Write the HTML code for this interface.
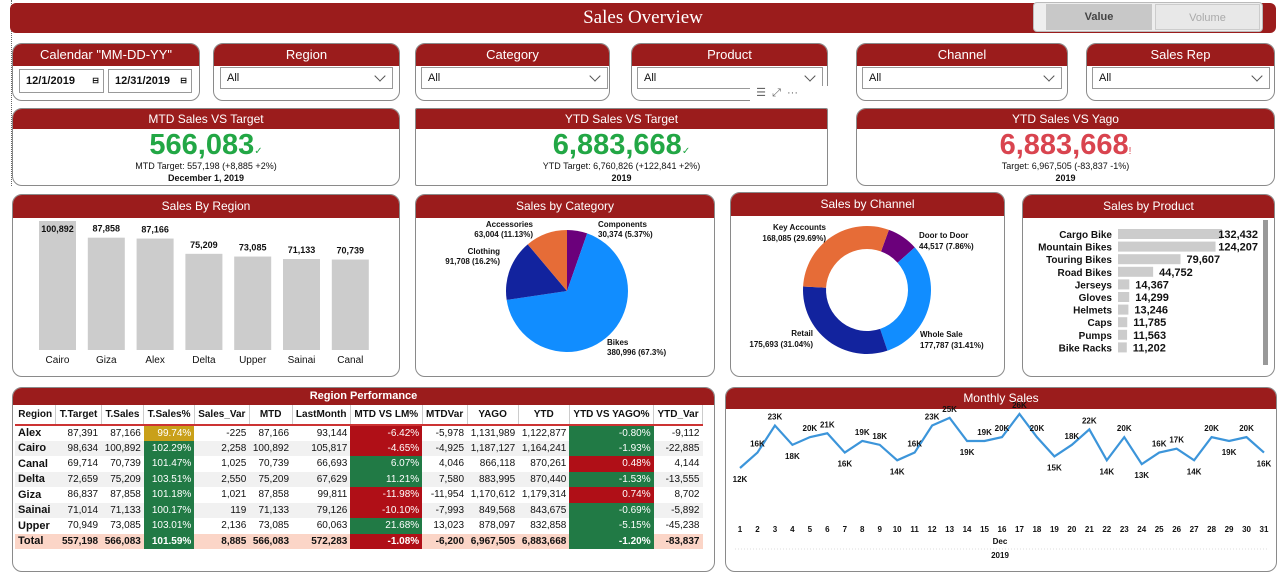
<!DOCTYPE html>
<html><head><meta charset="utf-8">
<style>
*{box-sizing:border-box;margin:0;padding:0}
body{width:1280px;height:574px;background:#fff;font-family:"Liberation Sans",sans-serif;position:relative;overflow:hidden;color:#111}
.abs{position:absolute}
.card{position:absolute;border:1px solid #8a8a8a;border-radius:10px;background:#fff;overflow:hidden}
.hd{position:absolute;left:0;right:0;top:0;background:#9b1c1c;color:#fff;text-align:center;font-size:12px}
.dd{position:absolute;border:1px solid #999;background:#fff;font-size:11px;padding-left:6px;line-height:20px}
.dd .ch{position:absolute;right:8px;top:4px;width:8px;height:8px;border-right:1px solid #555;border-bottom:1px solid #555;transform:rotate(45deg)}
.big{position:absolute;left:0;right:0;text-align:center;font-weight:bold;font-size:29px}
.sub{position:absolute;left:0;right:0;text-align:center;font-size:9px}
table{border-collapse:collapse;font-size:10px}
td,th{padding:0 3px;height:15.5px;white-space:nowrap}
th{font-weight:bold;border-right:1px solid #ccc;height:20px;text-align:center}
td{text-align:right}
td:first-child{text-align:left;font-weight:bold;font-size:11px}
tr.alt td{background:#f1f1f1}
.g{background:#217a45!important;color:#fff}
.r{background:#b00f17!important;color:#fff}
.y{background:#c9a019!important;color:#fff}
tr.tot td{background:#fbd5c7;font-weight:bold}
#charts{z-index:5;pointer-events:none}
</style></head><body>
<div class="abs" style="left:11px;top:0;height:186px;border-left:1px dotted #666"></div>
<div class="abs" style="left:10px;top:3px;width:1266px;height:30px;background:#9b1c1c;border-radius:6px"></div>
<div class="abs" style="left:0;top:7px;width:1286px;text-align:center;color:#fff;font-family:'Liberation Serif',serif;font-size:19px">Sales Overview</div>
<div class="abs" style="left:1033px;top:2px;width:230px;height:30px;background:#eee;border:1px solid #bbb;border-radius:4px"></div>
<div class="abs" style="left:1046px;top:4px;width:106px;height:26px;background:#c8c8c8;font-size:11px;font-weight:bold;color:#444;text-align:center;line-height:26px">Value</div>
<div class="abs" style="left:1155px;top:4px;width:105px;height:26px;background:#e8e8e8;font-size:11px;color:#aaa;text-align:center;line-height:26px;border:1px solid #ccc">Volume</div>

<div class="card" style="left:12px;top:43px;width:188px;height:58px"><div class="hd" style="height:22px;line-height:22px;font-size:13px">Calendar "MM-DD-YY"</div></div>
<div class="dd" style="left:19px;top:69px;width:85px;height:24px;font-size:11px;line-height:22px;font-weight:bold">12/1/2019<span style="position:absolute;right:4px;font-size:8px">⊟</span></div>
<div class="dd" style="left:108px;top:69px;width:84px;height:24px;font-size:11px;line-height:22px;font-weight:bold">12/31/2019<span style="position:absolute;right:4px;font-size:8px">⊟</span></div>
<div class="card" style="left:213px;top:43px;width:187px;height:58px"><div class="hd" style="height:22px;line-height:22px;font-size:13px">Region</div></div>
<div class="dd" style="left:220px;top:67px;width:173px;height:22px">All<span class="ch"></span></div>
<div class="card" style="left:415px;top:43px;width:195px;height:58px"><div class="hd" style="height:22px;line-height:22px;font-size:13px">Category</div></div>
<div class="dd" style="left:421px;top:67px;width:187px;height:22px">All<span class="ch"></span></div>
<div class="card" style="left:631px;top:43px;width:197px;height:58px"><div class="hd" style="height:22px;line-height:22px;font-size:13px">Product</div></div>
<div class="dd" style="left:637px;top:67px;width:186px;height:22px">All<span class="ch"></span></div>
<div class="abs" style="left:750px;top:86px;width:78px;height:16px;background:#fff;font-size:11px;color:#666">&nbsp;&nbsp;☰&nbsp;&nbsp;⤢&nbsp;&nbsp;···</div>
<div class="card" style="left:856px;top:43px;width:212px;height:58px"><div class="hd" style="height:22px;line-height:22px;font-size:13px">Channel</div></div>
<div class="dd" style="left:862px;top:67px;width:200px;height:22px">All<span class="ch"></span></div>
<div class="card" style="left:1086px;top:43px;width:189px;height:58px"><div class="hd" style="height:22px;line-height:22px;font-size:13px">Sales Rep</div></div>
<div class="dd" style="left:1092px;top:67px;width:178px;height:22px">All<span class="ch"></span></div>

<div class="card" style="left:12px;top:108px;width:388px;height:78px"><div class="hd" style="height:20px;line-height:20px">MTD Sales VS Target</div>
<div class="big" style="top:20px;color:#22a745">566,083<span style="font-size:10px;font-weight:normal">✓</span></div>
<div class="sub" style="top:52px">MTD Target: 557,198 (+8,885 +2%)</div><div class="sub" style="top:64px;font-weight:bold">December 1, 2019</div></div>
<div class="card" style="left:415px;top:108px;width:413px;height:78px;border-radius:2px"><div class="hd" style="height:20px;line-height:20px">YTD Sales VS Target</div>
<div class="big" style="top:20px;color:#22a745">6,883,668<span style="font-size:10px;font-weight:normal">✓</span></div>
<div class="sub" style="top:52px">YTD Target: 6,760,826 (+122,841 +2%)</div><div class="sub" style="top:64px;font-weight:bold">2019</div></div>
<div class="card" style="left:856px;top:108px;width:419px;height:78px"><div class="hd" style="height:20px;line-height:20px">YTD Sales VS Yago</div>
<div class="big" style="top:20px;color:#d9444f">6,883,668<span style="font-size:10px;font-weight:normal">!</span></div>
<div class="sub" style="top:52px">Target: 6,967,505 (-83,837 -1%)</div><div class="sub" style="top:64px;font-weight:bold">2019</div></div>

<div class="card" style="left:12px;top:194px;width:388px;height:183px"><div class="hd" style="height:23px;line-height:23px">Sales By Region</div></div>
<div class="card" style="left:415px;top:194px;width:300px;height:183px"><div class="hd" style="height:23px;line-height:23px">Sales by Category</div></div>
<div class="card" style="left:730px;top:192px;width:275px;height:185px"><div class="hd" style="height:23px;line-height:23px">Sales by Channel</div></div>
<div class="card" style="left:1022px;top:194px;width:253px;height:183px"><div class="hd" style="height:23px;line-height:23px">Sales by Product</div></div>

<div class="card" style="left:12px;top:387px;width:703px;height:185px"><div class="hd" style="height:17px;line-height:17px;font-weight:bold;font-size:11px">Region Performance</div>
<table class="abs" style="left:2px;top:17px;width:688px">
<tr style="border-bottom:2px solid #c33"><th>Region</th><th>T.Target</th><th>T.Sales</th><th>T.Sales%</th><th>Sales_Var</th><th>MTD</th><th>LastMonth</th><th>MTD VS LM%</th><th>MTDVar</th><th>YAGO</th><th>YTD</th><th>YTD VS YAGO%</th><th>YTD_Var</th></tr>
<tr><td>Alex</td><td>87,391</td><td>87,166</td><td class="y">99.74%</td><td>-225</td><td>87,166</td><td>93,144</td><td class="r">-6.42%</td><td>-5,978</td><td>1,131,989</td><td>1,122,877</td><td class="g">-0.80%</td><td>-9,112</td></tr>
<tr class="alt"><td>Cairo</td><td>98,634</td><td>100,892</td><td class="g">102.29%</td><td>2,258</td><td>100,892</td><td>105,817</td><td class="r">-4.65%</td><td>-4,925</td><td>1,187,127</td><td>1,164,241</td><td class="g">-1.93%</td><td>-22,885</td></tr>
<tr><td>Canal</td><td>69,714</td><td>70,739</td><td class="g">101.47%</td><td>1,025</td><td>70,739</td><td>66,693</td><td class="g">6.07%</td><td>4,046</td><td>866,118</td><td>870,261</td><td class="r">0.48%</td><td>4,144</td></tr>
<tr class="alt"><td>Delta</td><td>72,659</td><td>75,209</td><td class="g">103.51%</td><td>2,550</td><td>75,209</td><td>67,629</td><td class="g">11.21%</td><td>7,580</td><td>883,995</td><td>870,440</td><td class="g">-1.53%</td><td>-13,555</td></tr>
<tr><td>Giza</td><td>86,837</td><td>87,858</td><td class="g">101.18%</td><td>1,021</td><td>87,858</td><td>99,811</td><td class="r">-11.98%</td><td>-11,954</td><td>1,170,612</td><td>1,179,314</td><td class="r">0.74%</td><td>8,702</td></tr>
<tr class="alt"><td>Sainai</td><td>71,014</td><td>71,133</td><td class="g">100.17%</td><td>119</td><td>71,133</td><td>79,126</td><td class="r">-10.10%</td><td>-7,993</td><td>849,568</td><td>843,675</td><td class="g">-0.69%</td><td>-5,892</td></tr>
<tr><td>Upper</td><td>70,949</td><td>73,085</td><td class="g">103.01%</td><td>2,136</td><td>73,085</td><td>60,063</td><td class="g">21.68%</td><td>13,023</td><td>878,097</td><td>832,858</td><td class="g">-5.15%</td><td>-45,238</td></tr>
<tr class="tot"><td>Total</td><td>557,198</td><td>566,083</td><td class="g">101.59%</td><td>8,885</td><td>566,083</td><td>572,283</td><td class="r">-1.08%</td><td>-6,200</td><td>6,967,505</td><td>6,883,668</td><td class="g">-1.20%</td><td>-83,837</td></tr>
</table></div>

<div class="card" style="left:725px;top:387px;width:552px;height:185px"><div class="hd" style="height:21px;line-height:21px">Monthly Sales</div></div>
<svg class="abs" id="charts" style="left:0;top:0" width="1280" height="574"></svg>

<script>
const regionNames=["Cairo","Giza","Alex","Delta","Upper","Sainai","Canal"];
const regionValues=[100892,87858,87166,75209,73085,71133,70739];
const categoryNames=["Components","Bikes","Clothing","Accessories"];
const categoryValues=[30374,380996,91708,63004];
const categoryPct=["5.37%","67.3%","16.2%","11.13%"];
const channelNames=["Door to Door","Whole Sale","Retail","Key Accounts"];
const channelValues=[44517,177787,175693,168085];
const channelPct=["7.86%","31.41%","31.04%","29.69%"];
const productNames=["Cargo Bike","Mountain Bikes","Touring Bikes","Road Bikes","Jerseys","Gloves","Helmets","Caps","Pumps","Bike Racks"];
const productValues=[132432,124207,79607,44752,14367,14299,13246,11785,11563,11202];
const days=[1,2,3,4,5,6,7,8,9,10,11,12,13,14,15,16,17,18,19,20,21,22,23,24,25,26,27,28,29,30,31];
const dailySalesK=[12,16,23,18,20,21,16,19,18,14,16,23,25,19,19,20,26,20,15,18,22,14,20,13,16,17,14,20,19,20,16];

const svg=document.getElementById('charts');
const NS="http://www.w3.org/2000/svg";
function mk(tag,attrs,parent){const e=document.createElementNS(NS,tag);for(const k in attrs)e.setAttribute(k,attrs[k]);(parent||svg).appendChild(e);return e;}
function txt(x,y,s,size,anchor,weight){const t=mk('text',{x:x,y:y,'font-size':size,'text-anchor':anchor||'middle','font-family':'Liberation Sans, sans-serif','font-weight':weight||'normal',fill:'#111'});t.textContent=s;return t;}
const fmt=v=>v.toLocaleString('en-US');

const rBase=350,rScale=129/100892,rX=i=>39+i*48.8;
regionValues.forEach((v,i)=>{
 const h=v*rScale;
 const b=mk('rect',{x:rX(i),y:rBase-h,width:37,height:h,fill:'#cccccc'});
 
 
 txt(rX(i)+18.5,rBase-h+(i==0?11:-6),fmt(v),9,'middle','bold');
 txt(rX(i)+18.5,363,regionNames[i],10);
});

function arcPath(cx,cy,r,ri,a0,a1){
 const p=(a,rr)=>[cx+rr*Math.sin(a),cy-rr*Math.cos(a)];
 const lg=(a1-a0)>Math.PI?1:0;
 const [x0,y0]=p(a0,r),[x1,y1]=p(a1,r);
 if(!ri)return `M${cx},${cy}L${x0},${y0}A${r},${r} 0 ${lg} 1 ${x1},${y1}Z`;
 const [x2,y2]=p(a1,ri),[x3,y3]=p(a0,ri);
 return `M${x0},${y0}A${r},${r} 0 ${lg} 1 ${x1},${y1}L${x2},${y2}A${ri},${ri} 0 ${lg} 0 ${x3},${y3}Z`;
}
const catColors=["#6B007B","#118DFF","#12239E","#E66C37"];
let tot=categoryValues.reduce((a,b)=>a+b),a=0;
categoryValues.forEach((v,i)=>{const a1=a+v/tot*2*Math.PI;
 const s=mk('path',{d:arcPath(567,291,61,0,a,a1),fill:catColors[i]});
 
 
 a=a1;});
const catLab=[[598,227,'start'],[607,345,'start'],[500,254,'end'],[533,227,'end']];
categoryNames.forEach((n,i)=>{const [x,y,an]=catLab[i];txt(x,y,n,8,an,'bold');txt(x,y+10,fmt(categoryValues[i])+' ('+categoryPct[i]+')',8,an,'bold');});

const chColors=["#6B007B","#118DFF","#12239E","#E66C37"];
tot=channelValues.reduce((a,b)=>a+b);a=20*Math.PI/180;
channelValues.forEach((v,i)=>{const a1=a+v/tot*2*Math.PI;
 const s=mk('path',{d:arcPath(867,290,64,41,a,a1),fill:chColors[i]});
 
 
 a=a1;});
const chLab=[[919,238,'start'],[920,337,'start'],[813,336,'end'],[826,230,'end']];
channelNames.forEach((n,i)=>{const [x,y,an]=chLab[i];txt(x,y,n,8,an,'bold');txt(x,y+11,fmt(channelValues[i])+' ('+channelPct[i]+')',8,an,'bold');});

const pScale=104/132432,pY=i=>229+i*12.6;
productValues.forEach((v,i)=>{const w=v*pScale;
 const b=mk('rect',{x:1118,y:pY(i),width:w,height:10,fill:'#cccccc'});
 
 
 txt(1112,pY(i)+9,productNames[i],10,'end','bold');
 if(i<2)txt(1258,pY(i)+9,fmt(v),11,'end','bold');else txt(1118+w+6,pY(i)+9,fmt(v),11,'start','bold');
});
mk('rect',{x:1263,y:220,width:5,height:145,fill:'#999'});

const mX=d=>740+(d-1)*(1264-740)/30,mY=v=>468-(v-12)*3.86;
const pts=days.map((d,i)=>mX(d)+','+mY(dailySalesK[i])).join(' ');
const ln=mk('polyline',{points:pts,fill:'none',stroke:'#3c95da','stroke-width':2.2});


days.forEach((d,i)=>{const v=dailySalesK[i],p=i>0?dailySalesK[i-1]:99,n=i<30?dailySalesK[i+1]:99;
 const below=v<p&&v<=n;
 txt(mX(d),mY(v)+(below?14:-6),v+'K',8,'middle','bold');
 txt(mX(d),532,d,8,'middle','bold');});
txt(1000,544,'Dec',8,'middle','bold');
mk('line',{x1:735,y1:549,x2:1268,y2:549,stroke:'#ddd','stroke-dasharray':'1,2'});
txt(1000,558,'2019',8,'middle','bold');
</script>
</body></html>
